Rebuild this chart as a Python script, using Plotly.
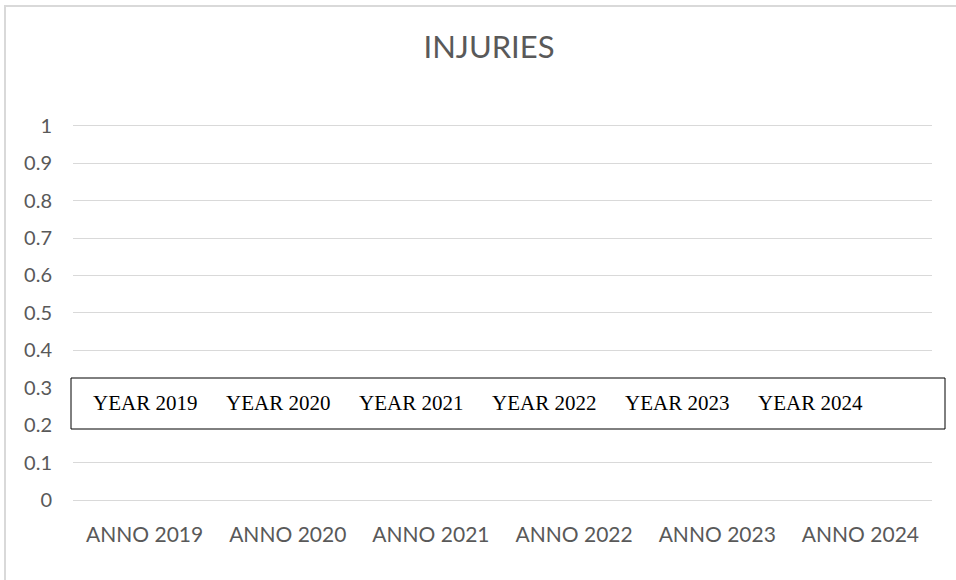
import plotly.graph_objects as go

# Chart data
categories = ["ANNO 2019", "ANNO 2020", "ANNO 2021", "ANNO 2022", "ANNO 2023", "ANNO 2024"]
injuries = [0, 0, 0, 0, 0, 0]
box_labels = ["YEAR 2019", "YEAR 2020", "YEAR 2021", "YEAR 2022", "YEAR 2023", "YEAR 2024"]
y_ticks = [0, 0.1, 0.2, 0.3, 0.4, 0.5, 0.6, 0.7, 0.8, 0.9, 1]

W, H = 956, 580
L, R, T, B = 73, 24, 122, 80
pw, ph = W - L - R, H - T - B
Y_MAX = 1.01

def px_x(x):
    return (x - L) / pw

def px_y(y):
    return (H - B - y) / ph

grey = "#595959"
grid = "#d9d9d9"

fig = go.Figure(go.Bar(x=categories, y=injuries, marker_color="#4472c4",
                       marker_line_width=0, showlegend=False))

shapes = [
    # outer chart frame
    dict(type="rect", xref="paper", yref="paper",
         x0=px_x(5), x1=px_x(1000), y0=px_y(620), y1=px_y(6),
         line=dict(color=grid, width=2), fillcolor="rgba(0,0,0,0)", layer="below"),
    # text box across the plot
    dict(type="rect", xref="paper", yref="paper",
         x0=px_x(71), x1=px_x(945), y0=px_y(429), y1=px_y(378),
         line=dict(color="black", width=1), fillcolor="white", layer="above"),
]

annotations = []
for i, lab in enumerate(box_labels):
    annotations.append(dict(
        text=lab, xref="paper", yref="paper",
        x=px_x(145 + i * 133), y=px_y(403), showarrow=False,
        xanchor="center", yanchor="middle",
        font=dict(family="Liberation Serif", size=21, color="black"),
    ))

fig.update_layout(
    width=W, height=H,
    margin=dict(l=L, r=R, t=T, b=B),
    paper_bgcolor="white", plot_bgcolor="white",
    title=dict(text="INJURIES", x=489 / W, xanchor="center", y=1 - 47 / H, yanchor="middle",
               font=dict(family="Lato", size=31, color=grey)),
    font=dict(family="Lato", color=grey),
    xaxis=dict(showgrid=False, showline=False, ticks="", tickfont=dict(size=21, color=grey),
               ticklabelstandoff=20),
    yaxis=dict(range=[0, Y_MAX], tickvals=y_ticks, showgrid=True, gridcolor=grid, gridwidth=1,
               zeroline=True, zerolinecolor=grid, zerolinewidth=1, showline=False, ticks="",
               tickfont=dict(size=20, color=grey), ticklabelstandoff=20),
    shapes=shapes, annotations=annotations,
    bargap=0.5,
)

fig.write_html("out.html")
